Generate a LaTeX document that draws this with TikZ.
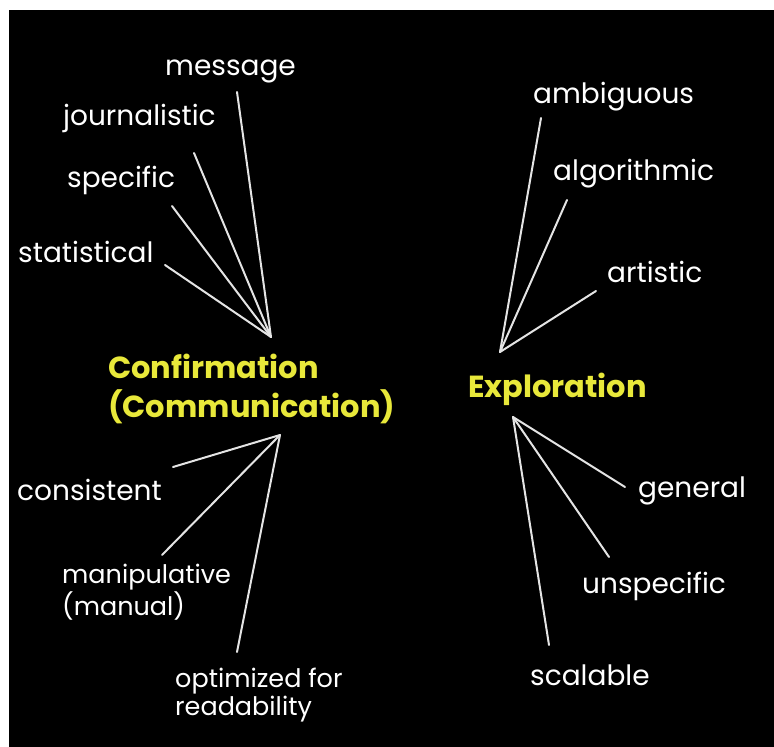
\documentclass[tikz,border=0pt]{standalone}
\usepackage{fontspec}
\setmainfont{Poppins}
\definecolor{hilite}{RGB}{232,232,58}
\definecolor{spokegray}{RGB}{228,228,228}
\begin{document}
\begin{tikzpicture}[x=1pt, y=-1pt,
  word/.style={white, anchor=base west, inner sep=0pt, align=left, font=\fontsize{28}{28}\selectfont},
  small/.style={word, font=\fontsize{25.5}{28}\selectfont},
  head/.style={hilite, anchor=base west, inner sep=0pt, align=left, font=\bfseries\fontsize{30.5}{39}\selectfont},
  spoke/.style={spokegray, line width=2pt, line cap=round}]
\useasboundingbox (0,0) rectangle (774,747);
\fill[white] (0,0) rectangle (774,747);
\fill[black] (9,10) rectangle (774,747);
% headings (base = last line)
\node[head] (conf) at (108,417) {Confirmation\\(Communication)};
\node[head] (expl) at (468,397) {Exploration};
% left side words
\node[word] (message) at (165,75) {message};
\node[word] (journ) at (63,125) {journalistic};
\node[word] (specif) at (67,187) {specific};
\node[word] (statist) at (18,262) {statistical};
\node[word] (consist) at (17,500) {consistent};
\node[small] (manip) at (62,615) {manipulative\\(manual)};
\node[small] (optim) at (175,715) {optimized for\\readability};
% right side words
\node[word] (ambig) at (533,103) {ambiguous};
\node[word] (algor) at (553,180) {algorithmic};
\node[word] (artist) at (607,282) {artistic};
\node[word] (general) at (638,497) {general};
\node[word] (unspec) at (582,593) {unspecific};
\node[word] (scal) at (530,685) {scalable};
% hubs and spoke ends
\coordinate (hubA) at (271,337);
\coordinate (hubB) at (280,435);
\coordinate (hubC) at (500,352);
\coordinate (hubD) at (513,417);
\coordinate (eMessage) at (237,92);
\coordinate (eJourn) at (194,153);
\coordinate (eSpecif) at (172,206);
\coordinate (eStatist) at (165,265);
\coordinate (eConsist) at (173,467);
\coordinate (eManip) at (162,555);
\coordinate (eOptim) at (237,652);
\coordinate (eAmbig) at (541,118);
\coordinate (eAlgor) at (567,200);
\coordinate (eArtist) at (596,291);
\coordinate (eGeneral) at (625,487);
\coordinate (eUnspec) at (609,557);
\coordinate (eScal) at (549,645);
\foreach \e in {eMessage,eJourn,eSpecif,eStatist} \draw[spoke] (hubA) -- (\e);
\foreach \e in {eConsist,eManip,eOptim} \draw[spoke] (hubB) -- (\e);
\foreach \e in {eAmbig,eAlgor,eArtist} \draw[spoke] (hubC) -- (\e);
\foreach \e in {eGeneral,eUnspec,eScal} \draw[spoke] (hubD) -- (\e);
\end{tikzpicture}
\end{document}
